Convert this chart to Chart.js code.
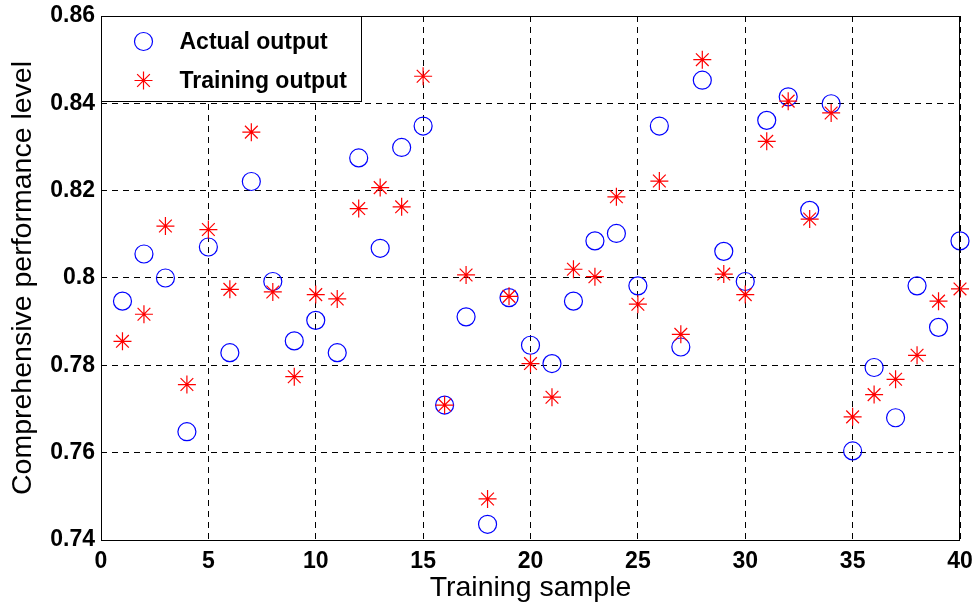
<!DOCTYPE html>
<html>
<head>
<meta charset="utf-8">
<script src="https://cdn.jsdelivr.net/npm/chart.js@4.4.0/dist/chart.umd.min.js"></script>
<style>
    html, body { margin: 0; padding: 0; background: #ffffff; }
    #wrap { width: 974px; height: 607px; }
</style>
</head>
<body>
<div id="wrap"><canvas id="perfChart" width="974" height="607"></canvas></div>
<script>
// sample numbers 1..40
const samples = [1, 2, 3, 4, 5, 6, 7, 8, 9, 10, 11, 12, 13, 14, 15, 16, 17, 18, 19, 20,
    21, 22, 23, 24, 25, 26, 27, 28, 29, 30, 31, 32, 33, 34, 35, 36, 37, 38, 39, 40];

const actualOutput = [0.7947, 0.8055, 0.8000, 0.7648, 0.8071, 0.7829, 0.8221, 0.7992, 0.7856, 0.7903,
    0.7829, 0.8275, 0.8068, 0.8299, 0.8348, 0.7709, 0.7911, 0.7436, 0.7955, 0.7846,
    0.7804, 0.7947, 0.8085, 0.8102, 0.7982, 0.8348, 0.7842, 0.8453, 0.8061, 0.7992,
    0.8361, 0.8415, 0.8155, 0.8399, 0.7604, 0.7795, 0.7680, 0.7982, 0.7887, 0.8085];

const trainingOutput = [0.7855, 0.7917, 0.8119, 0.7756, 0.8111, 0.7974, 0.8334, 0.7968, 0.7774, 0.7962,
    0.7952, 0.8159, 0.8207, 0.8163, 0.8462, 0.7709, 0.8007, 0.7494, 0.7958, 0.7804,
    0.7727, 0.8020, 0.8003, 0.8186, 0.7940, 0.8222, 0.7871, 0.8500, 0.8009, 0.7962,
    0.8313, 0.8405, 0.8135, 0.8378, 0.7682, 0.7733, 0.7768, 0.7823, 0.7947, 0.7975];

const xTicks = [0, 5, 10, 15, 20, 25, 30, 35, 40];
const yTicks = [0.74, 0.76, 0.78, 0.8, 0.82, 0.84, 0.86];
const yTickLabels = ["0.74", "0.76", "0.78", "0.8", "0.82", "0.84", "0.86"];

const seriesNames = ["Actual output", "Training output"];

const FONT = "'Liberation Sans', Arial, Helvetica, sans-serif";

function toPoints(ys) {
    return samples.map((s, i) => ({ x: s, y: ys[i] }));
}

// box round the plot + legend in the upper left corner
const framePlugin = {
    id: "frame",
    afterDatasetsDraw(chart) {
        const { ctx, chartArea } = chart;
        ctx.save();
        ctx.strokeStyle = "#000";
        ctx.lineWidth = 1;
        ctx.setLineDash([]);
        ctx.strokeRect(chartArea.left + 0.5, chartArea.top + 0.5,
            chartArea.right - chartArea.left - 1, chartArea.bottom - chartArea.top);

        // legend
        const lx = chartArea.left + 0.5, ly = chartArea.top + 0.5;
        const lw = 260, lh = 85;
        ctx.fillStyle = "#fff";
        ctx.fillRect(lx, ly, lw, lh);
        ctx.strokeRect(lx, ly, lw, lh);

        const rows = [ly + 25, ly + 64];
        chart.data.datasets.forEach((ds, i) => {
            ctx.strokeStyle = ds.borderColor;
            ctx.fillStyle = ds.backgroundColor;
            ctx.lineWidth = ds.borderWidth;
            Chart.helpers.drawPoint(ctx, {
                pointStyle: ds.pointStyle,
                radius: ds.pointRadius,
                borderWidth: ds.borderWidth,
                rotation: 0
            }, lx + 42, rows[i]);
            ctx.fillStyle = "#000";
            ctx.font = "bold 23px " + FONT;
            ctx.textBaseline = "middle";
            ctx.textAlign = "left";
            ctx.fillText(seriesNames[i], lx + 78, rows[i] + 1);
        });
        ctx.restore();
    }
};

// keep chart area exactly where the picture has it
function noEdgePadding(axis) {
    axis.paddingLeft = 0;
    axis.paddingRight = 0;
    axis.paddingTop = 0;
    axis.paddingBottom = 0;
}

const ctx = document.getElementById("perfChart").getContext("2d");

const perfChart = new Chart(ctx, {
    type: "scatter",
    data: {
        datasets: [
            {
                label: seriesNames[0],
                data: toPoints(actualOutput),
                pointStyle: "circle",
                pointRadius: 9,
                pointHoverRadius: 9,
                borderColor: "#0000ff",
                backgroundColor: "rgba(0,0,0,0)",
                borderWidth: 1.2,
                clip: false,
                order: 1
            },
            {
                label: seriesNames[1],
                data: toPoints(trainingOutput),
                pointStyle: "star",
                pointRadius: 9,
                pointHoverRadius: 9,
                borderColor: "#ff0000",
                backgroundColor: "#ff0000",
                borderWidth: 1.2,
                clip: false,
                order: 0
            }
        ]
    },
    options: {
        responsive: false,
        animation: false,
        devicePixelRatio: 1,
        layout: { padding: { left: 0, top: 16, right: 14, bottom: 0 } },
        plugins: {
            legend: { display: false },
            tooltip: { enabled: false }
        },
        scales: {
            x: {
                type: "linear",
                min: 0,
                max: 40,
                afterBuildTicks: (axis) => { axis.ticks = xTicks.map((v) => ({ value: v })); },
                afterFit: (axis) => { axis.height = 67; noEdgePadding(axis); },
                grid: { color: "#000", lineWidth: 1, drawTicks: false },
                border: { display: false, dash: [6, 5] },
                ticks: {
                    color: "#000",
                    padding: 8,
                    font: { family: FONT, size: 23, weight: "bold" }
                },
                title: {
                    display: true,
                    text: "Training sample",
                    color: "#000",
                    padding: { top: 0, bottom: 2 },
                    font: { family: FONT, size: 28.5 }
                }
            },
            y: {
                type: "linear",
                min: 0.74,
                max: 0.86,
                afterBuildTicks: (axis) => { axis.ticks = yTicks.map((v) => ({ value: v })); },
                afterFit: (axis) => { axis.width = 101; noEdgePadding(axis); },
                grid: { color: "#000", lineWidth: 1, drawTicks: false },
                border: { display: false, dash: [6, 5] },
                ticks: {
                    color: "#000",
                    padding: 6,
                    font: { family: FONT, size: 23, weight: "bold" },
                    callback: (v) => yTickLabels[yTicks.findIndex((t) => Math.abs(t - v) < 1e-9)]
                },
                title: {
                    display: true,
                    text: "Comprehensive performance level",
                    color: "#000",
                    padding: { top: 6, bottom: 0 },
                    font: { family: FONT, size: 28.5 }
                }
            }
        }
    },
    plugins: [framePlugin]
});
</script>
</body>
</html>
